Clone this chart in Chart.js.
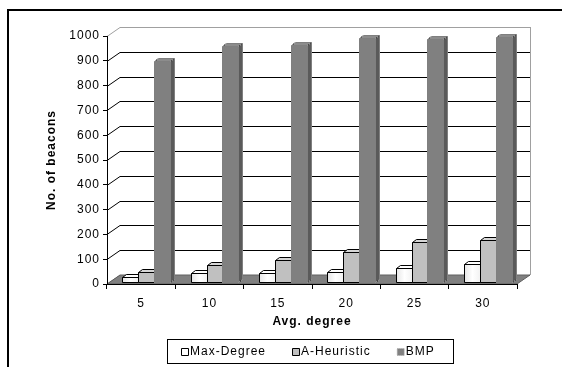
<!DOCTYPE html>
<html>
<head>
<meta charset="utf-8">
<script src="https://cdn.jsdelivr.net/npm/chart.js@4.4.0/dist/chart.umd.min.js"></script>
<style>
html, body { margin: 0; padding: 0; background: #fff; }
#wrap { width: 562px; height: 367px; }
</style>
</head>
<body>
<div id="wrap"><canvas id="chart" width="562" height="367"></canvas></div>
<script>
const categories = ['5', '10', '15', '20', '25', '30'];
const maxDegree = [21, 35, 38, 40, 56, 74];
const aHeuristic = [42, 68, 88, 122, 160, 168];
const bmp = [890, 950, 957, 984, 980, 988];
const yTicks = [0, 100, 200, 300, 400, 500, 600, 700, 800, 900, 1000];

// faces: front, top, side
const faces = [
    { front: '#ffffff', top: '#ffffff', side: '#d4d4d4', dotted: false },
    { front: '#c0c0c0', top: '#d6d6d6', side: '#9a9a9a', dotted: false },
    { front: '#808080', top: '#8c8c8c', side: '#5a5a5a', dotted: true }
];

const WALL_DX = 13, WALL_DY = -9;   // depth of the 3d walls
const BAR_DX = 5, BAR_DY = -2;      // bars sit a bit behind the front plane
const BAR_EX = 4, BAR_EY = -3;      // bar extrusion
const FONT = "'Liberation Sans', Arial, sans-serif";

function poly(ctx, pts) {
    ctx.beginPath();
    ctx.moveTo(pts[0][0], pts[0][1]);
    for (let i = 1; i < pts.length; i++) ctx.lineTo(pts[i][0], pts[i][1]);
    ctx.closePath();
}

function strokeEdge(ctx, dotted) {
    ctx.lineWidth = 1;
    ctx.strokeStyle = '#000';
    ctx.setLineDash([]);
    ctx.stroke();
    if (dotted) {
        ctx.strokeStyle = '#ffffff';
        ctx.setLineDash([1, 1]);
        ctx.stroke();
        ctx.setLineDash([]);
    }
}

const threeD = {
    id: 'threeD',
    beforeUpdate(chart) { chart.ctx.letterSpacing = '1px'; },
    beforeDraw(chart) {
        const ctx = chart.ctx;
        ctx.letterSpacing = '1px';
        const { left, right, top, bottom } = chart.chartArea;
        const ys = chart.scales.y;
        ctx.save();
        ctx.fillStyle = '#fff';
        ctx.fillRect(0, 0, chart.width, chart.height);

        // outer frame (top and left only)
        ctx.strokeStyle = '#000';
        ctx.lineWidth = 2;
        ctx.beginPath();
        ctx.moveTo(8, chart.height);
        ctx.lineTo(8, 10);
        ctx.lineTo(chart.width, 10);
        ctx.stroke();

        // gridlines on side wall and back wall
        ctx.lineWidth = 1;
        yTicks.forEach(v => {
            const py = Math.round(ys.getPixelForValue(v)) + 0.5;
            const isTop = v === yTicks[yTicks.length - 1];
            ctx.strokeStyle = isTop ? '#a0a0a0' : '#000';
            ctx.beginPath();
            ctx.moveTo(left, py);
            ctx.lineTo(left + WALL_DX, py + WALL_DY);
            ctx.lineTo(right + WALL_DX, py + WALL_DY);
            ctx.stroke();
        });
        // back wall right edge
        ctx.strokeStyle = '#a0a0a0';
        ctx.beginPath();
        ctx.moveTo(right + WALL_DX + 0.5, top + WALL_DY);
        ctx.lineTo(right + WALL_DX + 0.5, bottom + WALL_DY);
        ctx.stroke();

        // floor
        poly(ctx, [[left, bottom], [right, bottom], [right + WALL_DX, bottom + WALL_DY], [left + WALL_DX, bottom + WALL_DY]]);
        ctx.fillStyle = '#808080';
        ctx.fill();
        ctx.strokeStyle = '#606060';
        ctx.stroke();
        ctx.restore();
    },
    beforeDatasetsDraw(chart) {
        const ctx = chart.ctx;
        ctx.save();
        for (let i = 0; i < categories.length; i++) {
            chart.data.datasets.forEach((ds, d) => {
                const el = chart.getDatasetMeta(d).data[i];
                const p = el.getProps(['x', 'y', 'base', 'width'], true);
                const f = faces[d];
                const l = Math.round(p.x - p.width / 2 + BAR_DX) + 0.5;
                const r = Math.round(p.x + p.width / 2 + BAR_DX) + 0.5;
                const t = Math.round(p.y + BAR_DY) + 0.5;
                const b = Math.round(p.base + BAR_DY) + 0.5;
                // top
                poly(ctx, [[l, t], [r, t], [r + BAR_EX, t + BAR_EY], [l + BAR_EX, t + BAR_EY]]);
                ctx.fillStyle = f.top; ctx.fill(); strokeEdge(ctx, f.dotted);
                // side
                poly(ctx, [[r, t], [r + BAR_EX, t + BAR_EY], [r + BAR_EX, b + BAR_EY], [r, b]]);
                ctx.fillStyle = f.side; ctx.fill(); strokeEdge(ctx, f.dotted);
                // front
                poly(ctx, [[l, t], [r, t], [r, b], [l, b]]);
                if (d === 0) {
                    const g = ctx.createLinearGradient(l, 0, r, 0);
                    g.addColorStop(0, '#e6e6e6');
                    g.addColorStop(0.5, '#ffffff');
                    g.addColorStop(1, '#f2f2f2');
                    ctx.fillStyle = g;
                } else {
                    ctx.fillStyle = f.front;
                }
                ctx.fill(); strokeEdge(ctx, f.dotted);
            });
        }
        ctx.restore();
        return false;
    },
    afterDraw(chart) {
        // legend box
        const ctx = chart.ctx;
        ctx.save();
        ctx.letterSpacing = '1px';
        ctx.font = '12px ' + FONT;
        ctx.textBaseline = 'middle';
        ctx.strokeStyle = '#000';
        ctx.lineWidth = 1;
        ctx.strokeRect(167.5, 339.5, 286, 24);
        let x = 181;
        const cy = 352;
        chart.data.datasets.forEach((ds, d) => {
            const f = faces[d];
            poly(ctx, [[x + 0.5, cy - 3.5], [x + 7.5, cy - 3.5], [x + 7.5, cy + 3.5], [x + 0.5, cy + 3.5]]);
            ctx.fillStyle = f.front; ctx.fill();
            if (f.dotted) {
                ctx.strokeStyle = '#b0b0b0'; ctx.setLineDash([1, 1]); ctx.stroke(); ctx.setLineDash([]);
            } else {
                ctx.strokeStyle = '#000'; ctx.stroke();
            }
            ctx.fillStyle = '#000';
            ctx.fillText(ds.label, x + 9, cy);
            x += 9 + ctx.measureText(ds.label).width + 26;
        });
        ctx.restore();
    }
};

new Chart(document.getElementById('chart'), {
    type: 'bar',
    data: {
        labels: categories,
        datasets: [
            { label: 'Max-Degree', data: maxDegree, backgroundColor: faces[0].front },
            { label: 'A-Heuristic', data: aHeuristic, backgroundColor: faces[1].front },
            { label: 'BMP', data: bmp, backgroundColor: faces[2].front }
        ]
    },
    options: {
        responsive: false,
        animation: false,
        devicePixelRatio: 1,
        layout: { padding: { left: 8, right: 45, top: 36, bottom: 29 } },
        datasets: { bar: { categoryPercentage: 0.7, barPercentage: 1.0 } },
        plugins: { legend: { display: false }, tooltip: { enabled: false } },
        scales: {
            x: {
                afterFit: (axis) => { axis.height = 54; },
                grid: { display: true, offset: true, drawOnChartArea: false, color: '#000', tickLength: 5 },
                border: { color: '#000' },
                ticks: { color: '#000', padding: 7, font: { family: FONT, size: 12 } },
                title: { display: true, text: 'Avg. degree', color: '#000', padding: { top: 0, bottom: 9 }, font: { family: FONT, size: 12, weight: 'bold' } }
            },
            y: {
                min: 0,
                max: 1000,
                afterFit: (axis) => { axis.width = 99; },
                afterBuildTicks: (axis) => { axis.ticks = yTicks.map(v => ({ value: v })); },
                grid: { display: true, drawOnChartArea: false, color: '#000', tickLength: 4 },
                border: { color: '#000' },
                ticks: { color: '#000', padding: 3, font: { family: FONT, size: 12 }, callback: (v) => String(v) },
                title: { display: true, text: 'No. of beacons', color: '#000', padding: { top: 36, bottom: 0 }, font: { family: FONT, size: 12, weight: 'bold' } }
            }
        }
    },
    plugins: [threeD]
});
</script>
</body>
</html>
